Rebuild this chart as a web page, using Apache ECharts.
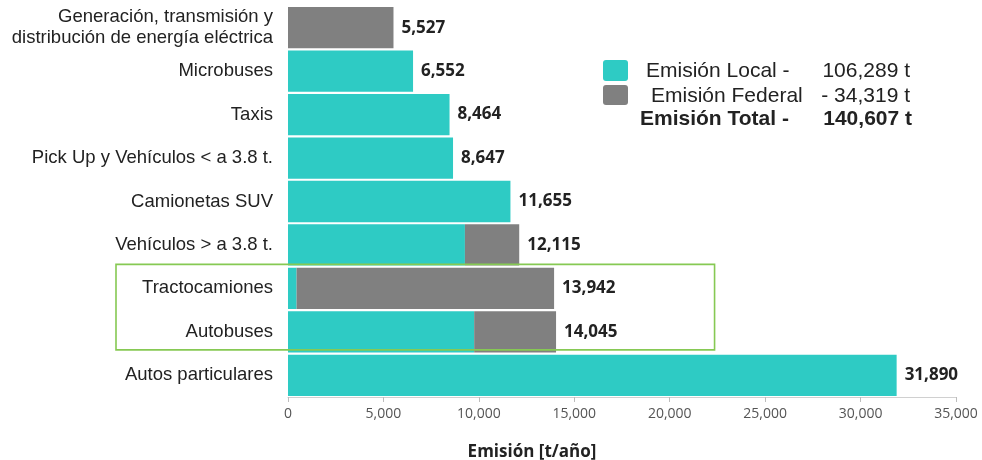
<!DOCTYPE html>
<html>
<head>
<meta charset="utf-8">
<script src="https://cdn.jsdelivr.net/npm/echarts@6/dist/echarts.min.js"></script>
<style>
html,body{margin:0;padding:0;background:#fff;}
#c{width:982px;height:460px;}
</style>
</head>
<body>
<div id="c"></div>
<script>
const categories = [
  "Generación, transmisión y\ndistribución de energía eléctrica",
  "Microbuses",
  "Taxis",
  "Pick Up y Vehículos < a 3.8 t.",
  "Camionetas SUV",
  "Vehículos > a 3.8 t.",
  "Tractocamiones",
  "Autobuses",
  "Autos particulares"
];
const localValues   = [0, 6552, 8464, 8647, 11655, 9270, 450, 9754, 31890];
const federalValues = [5527, 0, 0, 0, 0, 2845, 13492, 4291, 0];
const totalValues   = [5527, 6552, 8464, 8647, 11655, 12115, 13942, 14045, 31890];
const xTicks = [0, 5000, 10000, 15000, 20000, 25000, 30000, 35000];
const legendLocal = "106,289 t";
const legendFederal = "- 34,319 t";
const legendTotal = "140,607 t";
const axisTitle = "Emisión [t/año]";

const TEAL = "#2ecbc4";
const GRAY = "#808080";
const fmt = v => Number(v).toLocaleString("en-US");

const chart = echarts.init(document.getElementById("c"));
const option = {
  animation: false,
  backgroundColor: "#ffffff",
  grid: {left: 288, right: 26, top: 6, bottom: 63, containLabel: false},
  xAxis: {
    type: "value",
    min: xTicks[0],
    max: xTicks[xTicks.length - 1],
    interval: xTicks[1] - xTicks[0],
    axisLine: {show: true, lineStyle: {color: "#d0d0d0", width: 1}},
    axisTick: {show: true, length: 5, lineStyle: {color: "#bdbdbd"}},
    splitLine: {show: false},
    axisLabel: {color: "#555", fontSize: 14, fontFamily: "Open Sans", margin: 10,
      formatter: v => fmt(v)}
  },
  yAxis: {
    type: "category",
    data: categories,
    inverse: true,
    axisLine: {show: false},
    axisTick: {show: false},
    axisLabel: {color: "#222", fontSize: 18.5, fontFamily: "Liberation Sans", margin: 15,
      lineHeight: 21, align: "right"}
  },
  series: [
    {
      name: "Emisión Local", type: "bar", stack: "e", data: localValues,
      itemStyle: {color: TEAL}, barCategoryGap: "5%", silent: true
    },
    {
      name: "Emisión Federal", type: "bar", stack: "e", data: federalValues,
      itemStyle: {color: GRAY}, silent: true
    },
    {
      name: "Total", type: "bar", data: totalValues, barGap: "-100%",
      itemStyle: {color: "rgba(0,0,0,0)"}, silent: true, z: 1,
      label: {show: true, position: "right", distance: 8, color: "#222",
        fontFamily: "Open Sans", fontWeight: "bold", fontSize: 17,
        formatter: p => fmt(p.value)}
    }
  ]
};
chart.setOption(option);

const yTop = chart.convertToPixel({yAxisIndex: 0}, categories[6]);
const yBot = chart.convertToPixel({yAxisIndex: 0}, categories[7]);
const xRight = chart.convertToPixel({xAxisIndex: 0}, 22350);

const txt = (x, y, s, opts) => Object.assign({type: "text", x: x, y: y,
  style: Object.assign({text: s, fontFamily: "Liberation Sans", fontSize: 21,
    fill: "#222", textVerticalAlign: "middle", verticalAlign: "middle"}, opts || {})});

chart.setOption({
  graphic: [
    {type: "rect", shape: {x: 116, y: yTop - 24, width: xRight - 116, height: (yBot + 18) - (yTop - 24)},
      style: {fill: "none", stroke: "#86c953", lineWidth: 1.6}, z: 100},
    {type: "rect", shape: {x: 603, y: 60, width: 25, height: 21, r: 3}, style: {fill: TEAL}},
    {type: "rect", shape: {x: 603, y: 85, width: 25, height: 20, r: 3}, style: {fill: GRAY}},
    txt(646, 71, "Emisión Local -"),
    txt(910, 71, legendLocal, {textAlign: "right", align: "right"}),
    txt(651, 96, "Emisión Federal"),
    txt(910, 96, legendFederal, {textAlign: "right", align: "right"}),
    txt(640, 119, "Emisión Total -", {fontWeight: "bold"}),
    txt(912, 119, legendTotal, {fontWeight: "bold", textAlign: "right", align: "right"}),
    {type: "text", x: 532, y: 452,
      style: {text: axisTitle, fontFamily: "Open Sans", fontWeight: "bold", fontSize: 17,
        fill: "#222", align: "center", textAlign: "center", verticalAlign: "middle", textVerticalAlign: "middle"}}
  ]
});
</script>
</body>
</html>
